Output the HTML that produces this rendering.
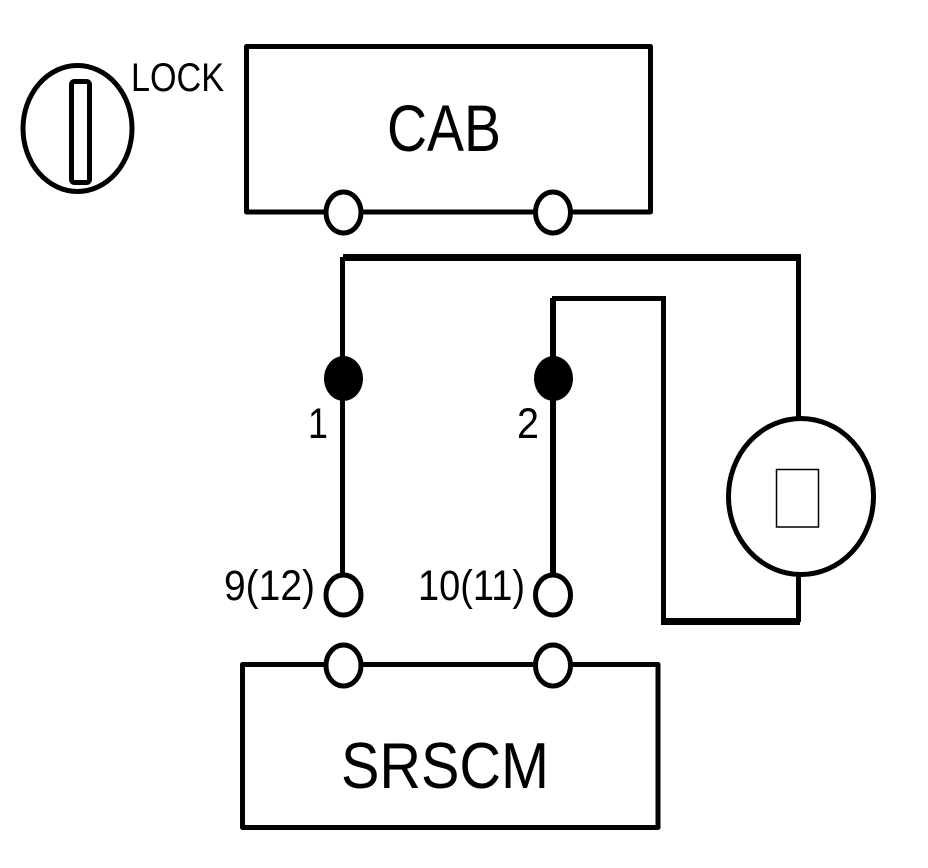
<!DOCTYPE html>
<html>
<head>
<meta charset="utf-8">
<style>
html,body{margin:0;padding:0;background:#fff;}
svg{display:block;}
text{font-family:"Liberation Sans",sans-serif;fill:#000;}
</style>
</head>
<body>
<svg width="928" height="868" viewBox="0 0 928 868" xmlns="http://www.w3.org/2000/svg">
<rect width="928" height="868" fill="#fff"/>
<!-- Lock -->
<ellipse cx="77.500" cy="128.500" rx="54.500" ry="63" fill="#fff" stroke="#000" stroke-width="5"/>
<rect x="71.500" y="81.500" width="18" height="101" rx="3" fill="#fff" stroke="#000" stroke-width="5"/>
<text x="131" y="91" font-size="40" textLength="93" lengthAdjust="spacingAndGlyphs">LOCK</text>
<!-- CAB -->
<rect x="246.500" y="46.500" width="404" height="165.500" fill="none" stroke="#000" stroke-width="5" stroke-linejoin="round"/>
<ellipse cx="343.500" cy="212.500" rx="17.500" ry="20.500" fill="#fff" stroke="#000" stroke-width="5"/>
<ellipse cx="553" cy="212.500" rx="17.500" ry="20.500" fill="#fff" stroke="#000" stroke-width="5"/>
<text x="387" y="151" font-size="66" textLength="114" lengthAdjust="spacingAndGlyphs">CAB</text>
<!-- Wires -->
<g stroke="#000" fill="none" shape-rendering="crispEdges">
<line x1="342.500" y1="257" x2="342.500" y2="575" stroke-width="5"/>
<line x1="343" y1="257.500" x2="801" y2="257.500" stroke-width="7"/>
<line x1="798.500" y1="257" x2="798.500" y2="418" stroke-width="5"/>
<line x1="553" y1="298" x2="553" y2="575" stroke-width="6"/>
<line x1="552" y1="298.500" x2="666" y2="298.500" stroke-width="5"/>
<line x1="663.500" y1="298" x2="663.500" y2="625" stroke-width="5"/>
<line x1="662" y1="621.500" x2="800" y2="621.500" stroke-width="7"/>
<line x1="798.500" y1="574" x2="798.500" y2="622" stroke-width="5"/>
</g>
<ellipse cx="343.500" cy="378.500" rx="19.500" ry="22.500" fill="#000"/>
<ellipse cx="553.500" cy="378.500" rx="19.500" ry="22.500" fill="#000"/>
<text x="308" y="438" font-size="43" textLength="20" lengthAdjust="spacingAndGlyphs">1</text>
<text x="517" y="438" font-size="43" textLength="22" lengthAdjust="spacingAndGlyphs">2</text>
<!-- Horn circle -->
<ellipse cx="801" cy="496.500" rx="72.500" ry="78" fill="#fff" stroke="#000" stroke-width="5"/>
<rect x="776.500" y="469.500" width="42" height="57.500" fill="#fff" stroke="#000" stroke-width="1.500"/>
<!-- Lower connectors -->
<ellipse cx="343.500" cy="595" rx="17.500" ry="20" fill="#fff" stroke="#000" stroke-width="5"/>
<ellipse cx="553" cy="595" rx="17.500" ry="20" fill="#fff" stroke="#000" stroke-width="5"/>
<text x="224" y="600" font-size="43" textLength="91" lengthAdjust="spacingAndGlyphs">9(12)</text>
<text x="418" y="600" font-size="43" textLength="107" lengthAdjust="spacingAndGlyphs">10(11)</text>
<!-- SRSCM -->
<rect x="242.500" y="664.500" width="415.500" height="163" fill="none" stroke="#000" stroke-width="5" stroke-linejoin="round"/>
<ellipse cx="343.500" cy="665.500" rx="17.500" ry="20.500" fill="#fff" stroke="#000" stroke-width="5"/>
<ellipse cx="553" cy="665.500" rx="17.500" ry="20.500" fill="#fff" stroke="#000" stroke-width="5"/>
<text x="341" y="788" font-size="65" textLength="208" lengthAdjust="spacingAndGlyphs">SRSCM</text>
</svg>
</body>
</html>
